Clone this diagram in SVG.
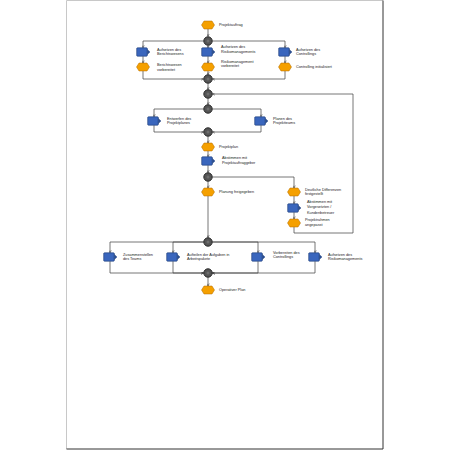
<svg xmlns="http://www.w3.org/2000/svg" width="450" height="450" viewBox="0 0 450 450">
<style>
.t{font-family:"Liberation Sans",Arial,sans-serif;font-size:3.8px;fill:#222}
.e{fill:#f5a000;stroke:#b06a00;stroke-width:0.5}
.f{fill:#3a66bd;stroke:#1b3a73;stroke-width:0.6}
.ft{fill:#2a4f95;stroke:#1b3a73;stroke-width:0.4}
.c{fill:#555;stroke:#2a2a2a;stroke-width:1}
.ci{fill:#6e6e6e}
.l{fill:none;stroke:#4a4a4a;stroke-width:0.75;marker-end:url(#a)}
</style>
<defs>
<marker id="a" viewBox="0 0 6 6" refX="5.5" refY="3" markerWidth="4" markerHeight="4" orient="auto" markerUnits="strokeWidth">
<path d="M0.5,0.5 L5.5,3 L0.5,5.5" fill="none" stroke="#333" stroke-width="1"/>
</marker>
<g id="ev"><polygon class="e" points="-6.5,0 -4,-4 4,-4 6.5,0 4,4 -4,4"/></g>
<g id="fn"><rect class="f" x="-6.3" y="-4.2" width="10.6" height="8.4" rx="0.8"/><path class="ft" d="M4.3,-2.6 L7,0 L4.3,2.6 Z"/></g>
<g id="cn"><circle class="c" r="4.2"/><circle class="ci" r="1.5"/></g>
</defs>
<rect x="66" y="0" width="317" height="449" fill="#fff"/>
<path d="M66.5,449 V0.5 H383" fill="none" stroke="#c8c8c8" stroke-width="1"/>
<path d="M383,0.5 V449 H66.5" fill="none" stroke="#333" stroke-width="1"/>
<g id="connectors">
<path class="l" d="M208,29 V36.3"/>
<path class="l" d="M203.8,41 H143 V47.8"/>
<path class="l" d="M208,45.2 V47.8"/>
<path class="l" d="M212.2,41 H285 V47.8"/>
<path class="l" d="M143,56.2 V63"/>
<path class="l" d="M208,56.2 V63"/>
<path class="l" d="M285,56.2 V63"/>
<path class="l" d="M143,71 V79 H203.6"/>
<path class="l" d="M208,71 V74.6"/>
<path class="l" d="M285,71 V79 H212.4"/>
<path class="l" d="M208,83.2 V89.6"/>
<path class="l" d="M294,227 V233 H353 V94 H212.4"/>
<path class="l" d="M208,98.2 V104.6"/>
<path class="l" d="M203.8,109 H154 V116.8"/>
<path class="l" d="M212.2,109 H261 V116.8"/>
<path class="l" d="M154,125.2 V132 H203.6"/>
<path class="l" d="M261,125.2 V132 H212.4"/>
<path class="l" d="M208,136.2 V143"/>
<path class="l" d="M208,151 V156.8"/>
<path class="l" d="M208,165.2 V172.6"/>
<path class="l" d="M208,181.2 V188"/>
<path class="l" d="M212.2,177 H294 V188"/>
<path class="l" d="M294,196 V203.8"/>
<path class="l" d="M294,212.2 V219"/>
<path class="l" d="M208,196 V237.6"/>
<path class="l" d="M203.8,242 H110 V252.8"/>
<path class="l" d="M203.8,242 H173 V252.8"/>
<path class="l" d="M212.2,242 H258 V252.8"/>
<path class="l" d="M212.2,242 H315 V252.8"/>
<path class="l" d="M110,261.2 V273 H203.6"/>
<path class="l" d="M173,261.2 V273 H203.6"/>
<path class="l" d="M258,261.2 V273 H212.4"/>
<path class="l" d="M315,261.2 V273 H212.4"/>
<path class="l" d="M208,277.2 V286"/>
</g>
<g id="E1"><use href="#ev" x="208" y="25"/><text class="t" x="219" y="26.4">Projektauftrag</text></g>
<g id="C1"><use href="#cn" x="208" y="41"/></g>
<g id="F1a"><use href="#fn" x="143" y="52"/><text class="t" x="157" y="50.5">Aufsetzen des</text><text class="t" x="157" y="55">Berichtswesens</text></g>
<g id="F1b"><use href="#fn" x="208" y="52"/><text class="t" x="221" y="48">Aufsetzen des</text><text class="t" x="221" y="52.5">Risikomanagements</text></g>
<g id="F1c"><use href="#fn" x="285" y="52"/><text class="t" x="296" y="50.5">Aufsetzen des</text><text class="t" x="296" y="55">Controllings</text></g>
<g id="E1a"><use href="#ev" x="143" y="67"/><text class="t" x="157" y="66.2">Berichtswesen</text><text class="t" x="157" y="70.7">vorbereitet</text></g>
<g id="E1b"><use href="#ev" x="208" y="67"/><text class="t" x="221" y="62.8">Risikomanagement</text><text class="t" x="221" y="67.3">vorbereitet</text></g>
<g id="E1c"><use href="#ev" x="285" y="67"/><text class="t" x="296" y="67.6">Controlling initialisiert</text></g>
<g id="C2"><use href="#cn" x="208" y="79"/></g>
<g id="C3"><use href="#cn" x="208" y="94"/></g>
<g id="C4"><use href="#cn" x="208" y="109"/></g>
<g id="F2a"><use href="#fn" x="154" y="121"/><text class="t" x="167" y="119.6">Entwerfen des</text><text class="t" x="167" y="124.1">Projektplanes</text></g>
<g id="F2b"><use href="#fn" x="261" y="121"/><text class="t" x="273" y="119.6">Planen des</text><text class="t" x="273" y="124.1">Projektteams</text></g>
<g id="C5"><use href="#cn" x="208" y="132"/></g>
<g id="E2"><use href="#ev" x="208" y="147"/><text class="t" x="219" y="148.4">Projektplan</text></g>
<g id="F3"><use href="#fn" x="208" y="161"/><text class="t" x="222" y="159.3">Abstimmen mit</text><text class="t" x="222" y="163.8">Projektauftraggeber</text></g>
<g id="C6"><use href="#cn" x="208" y="177"/></g>
<g id="E3a"><use href="#ev" x="208" y="192"/><text class="t" x="219" y="193.2">Planung freigegeben</text></g>
<g id="E3b"><use href="#ev" x="294" y="192"/><text class="t" x="305" y="190.5">Deutliche Differenzen</text><text class="t" x="305" y="195.2">festgestellt</text></g>
<g id="F4"><use href="#fn" x="294" y="208"/><text class="t" x="307" y="203.2">Abstimmen mit</text><text class="t" x="307" y="208.4">Vorgesetzten /</text><text class="t" x="307" y="213.6">Kundenbetreuer</text></g>
<g id="E4"><use href="#ev" x="294" y="223"/><text class="t" x="305" y="221.4">Projektrahmen</text><text class="t" x="305" y="226.1">angepasst</text></g>
<g id="C7"><use href="#cn" x="208" y="242"/></g>
<g id="F5a"><use href="#fn" x="110" y="257"/><text class="t" x="123" y="255.6">Zusammenstellen</text><text class="t" x="123" y="260.1">des Teams</text></g>
<g id="F5b"><use href="#fn" x="173" y="257"/><text class="t" x="187" y="255.6">Aufteilen der Aufgaben in</text><text class="t" x="187" y="260.1">Arbeitspakete</text></g>
<g id="F5c"><use href="#fn" x="258" y="257"/><text class="t" x="273" y="253.6">Vorbereiten des</text><text class="t" x="273" y="258.1">Controllings</text></g>
<g id="F5d"><use href="#fn" x="315" y="257"/><text class="t" x="328" y="255.6">Aufsetzen des</text><text class="t" x="328" y="260.1">Risikomanagements</text></g>
<g id="C8"><use href="#cn" x="208" y="273"/></g>
<g id="E5"><use href="#ev" x="208" y="290"/><text class="t" x="219" y="291.4">Operativer Plan</text></g>
</svg>
